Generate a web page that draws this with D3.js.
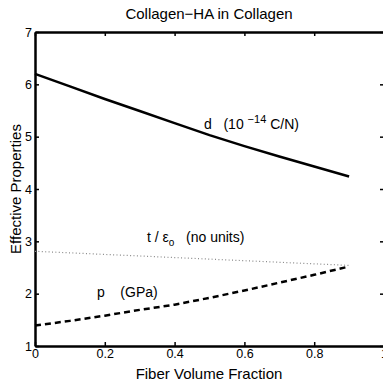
<!DOCTYPE html>
<html>
<head>
<meta charset="utf-8">
<script src="https://cdn.jsdelivr.net/npm/d3@7"></script>
<style>
  body { margin: 0; background: #fff; }
  svg { display: block; font-family: "Liberation Sans", Arial, Helvetica, sans-serif; }
  .note { white-space: pre; }
</style>
</head>
<body>
<svg id="chart" width="383" height="384"></svg>
<script>
// Fiber volume fraction samples
var fraction = [0, 0.1, 0.2, 0.3, 0.4, 0.5, 0.6, 0.7, 0.8, 0.9];
// d (10^-14 C/N)
var dValues = [6.20, 5.96, 5.72, 5.49, 5.26, 5.03, 4.82, 4.62, 4.43, 4.24];
// t / eps_o (no units)
var tValues = [2.81, 2.78, 2.75, 2.72, 2.69, 2.66, 2.63, 2.60, 2.57, 2.54];
// p (GPa)
var pValues = [1.39, 1.48, 1.58, 1.69, 1.79, 1.92, 2.06, 2.21, 2.36, 2.52];

var xTicks = [0, 0.2, 0.4, 0.6, 0.8, 1];
var yTicks = [1, 2, 3, 4, 5, 6, 7];

var svg = d3.select("#chart");

// Plot box runs slightly past the right edge of the picture
var x = d3.scaleLinear().domain([0, 1]).range([35, 384]);
var y = d3.scaleLinear().domain([1, 7]).range([346, 32]);

function styleAxis(g) {
    g.attr("font-family", null).attr("font-size", null);
    g.select(".domain").attr("stroke", "#000").attr("stroke-width", 2.5);
    g.selectAll(".tick line").attr("stroke", "#000").attr("stroke-width", 1.5);
    g.selectAll(".tick text").attr("fill", "#000").style("font-size", "12.5px");
}

// Bottom axis with labels
svg.append("g")
    .attr("transform", "translate(0," + y(1) + ")")
    .call(d3.axisBottom(x).tickValues(xTicks).tickFormat(d3.format("")).tickSizeInner(-4).tickSizeOuter(0).tickPadding(3))
    .call(styleAxis);

// Top axis, ticks only
svg.append("g")
    .attr("transform", "translate(0," + y(7) + ")")
    .call(d3.axisTop(x).tickValues(xTicks).tickFormat("").tickSizeInner(-4).tickSizeOuter(0))
    .call(styleAxis);

// Left axis with labels
svg.append("g")
    .attr("transform", "translate(" + x(0) + ",0)")
    .call(d3.axisLeft(y).tickValues(yTicks).tickFormat(d3.format("d")).tickSizeInner(-4).tickSizeOuter(0).tickPadding(3))
    .call(styleAxis);

// Right axis, ticks only
svg.append("g")
    .attr("transform", "translate(" + x(1) + ",0)")
    .call(d3.axisRight(y).tickValues(yTicks).tickFormat("").tickSizeInner(-4).tickSizeOuter(0))
    .call(styleAxis);

// Curves
var line = d3.line()
    .x(function (d) { return x(d[0]); })
    .y(function (d) { return y(d[1]); });

function pairs(vals) {
    return fraction.map(function (f, i) { return [f, vals[i]]; });
}

svg.append("path")
    .datum(pairs(dValues))
    .attr("fill", "none")
    .attr("stroke", "#000")
    .attr("stroke-width", 2.5)
    .attr("d", line);

svg.append("path")
    .datum(pairs(tValues))
    .attr("fill", "none")
    .attr("stroke", "#888")
    .attr("stroke-width", 1.2)
    .attr("stroke-dasharray", "1,2.4")
    .attr("d", line);

svg.append("path")
    .datum(pairs(pValues))
    .attr("fill", "none")
    .attr("stroke", "#000")
    .attr("stroke-width", 2.5)
    .attr("stroke-dasharray", "6,4")
    .attr("d", line);

// Title and axis labels
svg.append("text")
    .attr("x", 209).attr("y", 19)
    .attr("text-anchor", "middle")
    .style("font-size", "15px")
    .text("Collagen\u2212HA in Collagen");

svg.append("text")
    .attr("x", 209).attr("y", 379)
    .attr("text-anchor", "middle")
    .style("font-size", "15px")
    .text("Fiber Volume Fraction");

svg.append("text")
    .attr("transform", "translate(21," + y(4) + ") rotate(-90)")
    .attr("text-anchor", "middle")
    .style("font-size", "15px")
    .text("Effective Properties");

// Curve annotations
var dLabel = svg.append("text")
    .attr("class", "note")
    .attr("x", 204).attr("y", 129)
    .style("font-size", "14px");
dLabel.append("tspan").text("d   (10 ");
dLabel.append("tspan").attr("dy", -6).style("font-size", "11px").text("\u221214");
dLabel.append("tspan").attr("dy", 6).text(" C/N)");

var tLabel = svg.append("text")
    .attr("class", "note")
    .attr("x", 147).attr("y", 242)
    .style("font-size", "14px");
tLabel.append("tspan").text("t / \u03b5");
tLabel.append("tspan").attr("dy", 4).style("font-size", "10px").text("o");
tLabel.append("tspan").attr("dy", -4).text("   (no units)");

svg.append("text")
    .attr("class", "note")
    .attr("x", 97).attr("y", 297)
    .style("font-size", "14px")
    .text("p    (GPa)");
</script>
</body>
</html>
